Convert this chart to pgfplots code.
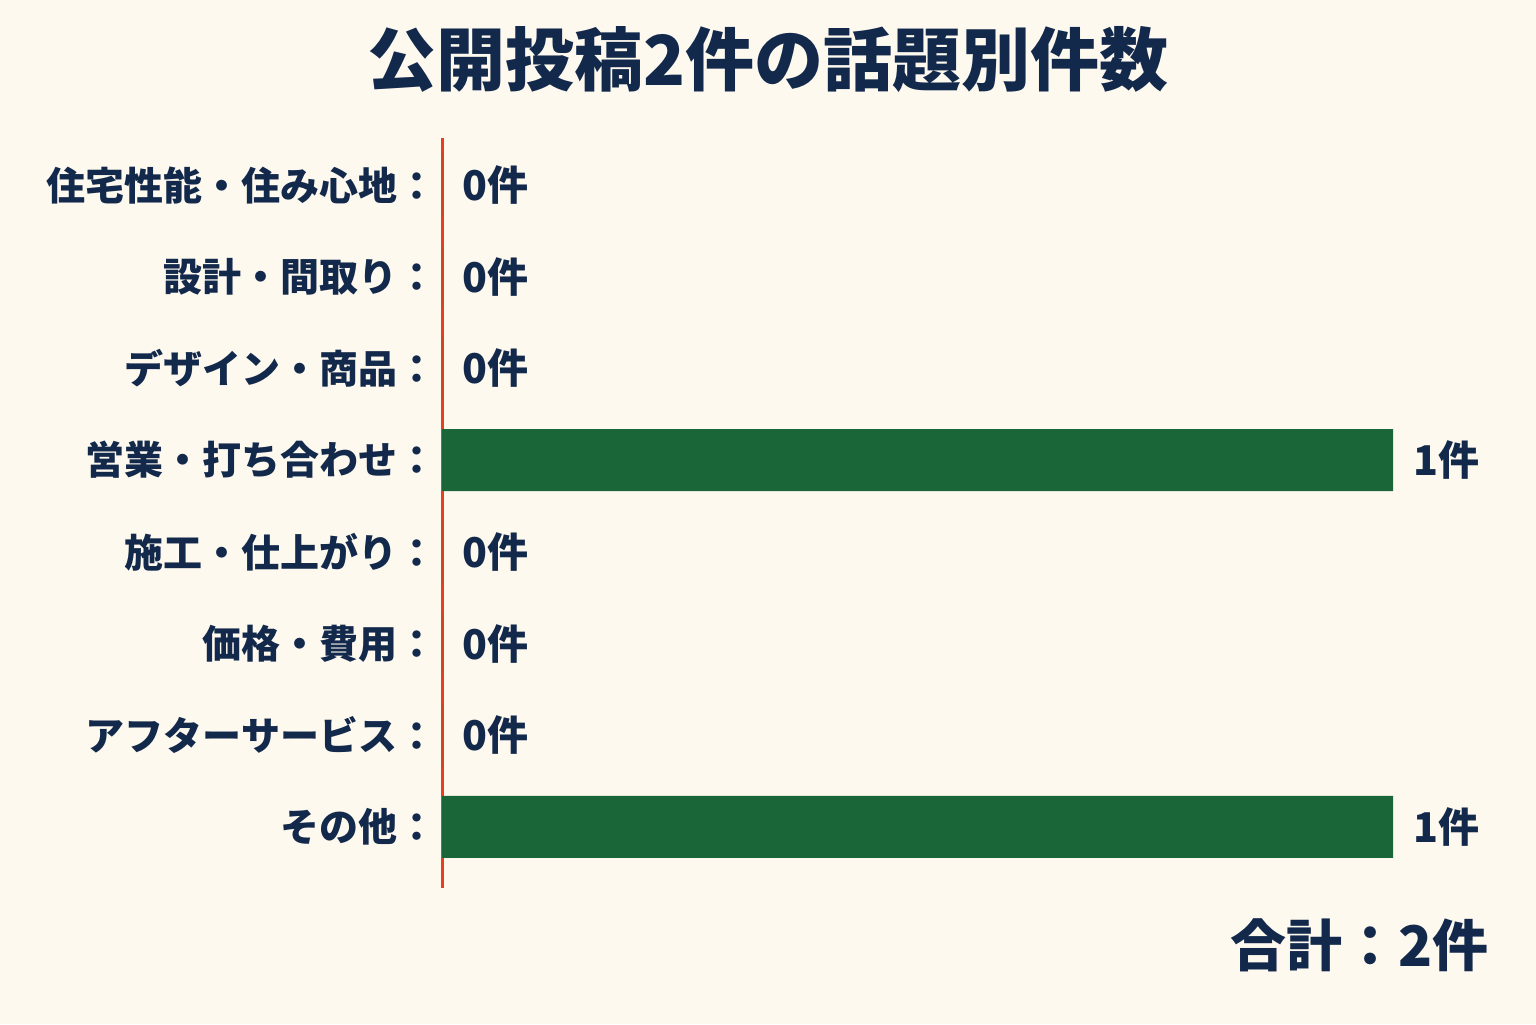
\documentclass[border=0pt]{standalone}
\usepackage{fontspec}
\setmainfont{Noto Sans CJK JP}
\usepackage{pgfplots}
\pgfplotsset{compat=1.18}
\definecolor{bgcream}{HTML}{FDF9EF}
\definecolor{navy}{HTML}{13294B}
\definecolor{bargreen}{HTML}{1B6639}
\definecolor{axisred}{HTML}{E8401C}

\begin{document}
\begin{tikzpicture}
  \fill[bgcream] (0,0) rectangle (768pt,-512pt);
  \useasboundingbox (0,0) rectangle (768pt,-512pt);
  \node[text=navy, font=\bfseries\fontsize{34.5}{34.5}\selectfont] at (384pt,-30pt) {公開投稿2件の話題別件数};
  \begin{axis}[
    at={(221pt,-444pt)}, anchor=south west,
    scale only axis,
    width=475.5pt, height=375pt,
    xbar, bar width=31pt, bar shift=0pt,
    xmin=0, xmax=1,
    ymin=0.487, ymax=8.667,
    y dir=reverse,
    hide x axis,
    axis y line*=left,
    y axis line style={draw=axisred, line width=1.5pt, -},
    ytick={1,...,8},
    yticklabels={住宅性能・住み心地：, 設計・間取り：, デザイン・商品：, 営業・打ち合わせ：, 施工・仕上がり：, 価格・費用：, アフターサービス：, その他：},
    ytick style={draw=none},
    yticklabel style={font=\bfseries\fontsize{19.5}{19.5}\selectfont, text=navy, inner sep=0pt, xshift=1.5pt},
    /pgf/number format/assume math mode=true,
    nodes near coords={\pgfmathprintnumber{\pgfplotspointmeta}件},
    every node near coord/.append style={font=\bfseries\fontsize{20.5}{20.5}\selectfont, text=navy, anchor=west, inner sep=0pt, xshift=10pt},
    clip=false,
  ]
    \addplot[fill=bargreen, draw=none] coordinates {
      (0,1) (0,2) (0,3) (1,4) (0,5) (0,6) (0,7) (1,8)
    };
  \end{axis}
  \node[text=navy, font=\bfseries\fontsize{28}{28}\selectfont, anchor=east] at (748pt,-472.5pt) {合計：2件};
\end{tikzpicture}
\end{document}
